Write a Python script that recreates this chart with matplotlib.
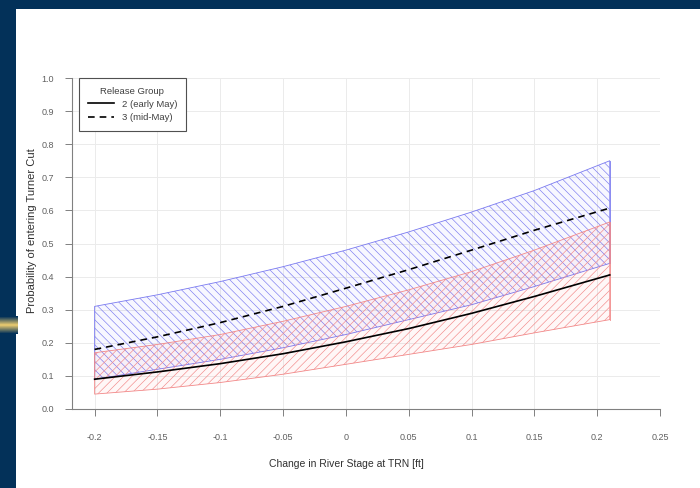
import matplotlib
matplotlib.use('Agg')
import matplotlib.pyplot as plt
import numpy as np

# change in river stage at TRN [ft]
stage = [-0.2, -0.15, -0.1, -0.05, 0.0, 0.05, 0.1, 0.15, 0.21]

# release group 2 (early May)
p_early = [0.090, 0.112, 0.137, 0.167, 0.203, 0.243, 0.289, 0.340, 0.405]
lo_early = [0.045, 0.060, 0.080, 0.105, 0.135, 0.165, 0.195, 0.230, 0.270]
hi_early = [0.170, 0.195, 0.225, 0.265, 0.310, 0.360, 0.415, 0.480, 0.565]

# release group 3 (mid-May)
p_mid = [0.180, 0.218, 0.261, 0.310, 0.365, 0.421, 0.480, 0.540, 0.607]
lo_mid = [0.090, 0.120, 0.150, 0.185, 0.225, 0.270, 0.315, 0.370, 0.440]
hi_mid = [0.310, 0.345, 0.385, 0.430, 0.480, 0.535, 0.595, 0.660, 0.750]

xticks = [-0.2, -0.15, -0.1, -0.05, 0, 0.05, 0.1, 0.15, 0.2, 0.25]
xlabels = ['-0.2', '-0.15', '-0.1', '-0.05', '0', '0.05', '0.1', '0.15', '0.2', '0.25']
yticks = np.round(np.arange(0, 1.01, 0.1), 1)

navy = '#033159'
blue_h = '#7a7af0'
red_h = '#f28888'
plt.rcParams['hatch.linewidth'] = 0.45
plt.rcParams['font.family'] = ['Liberation Sans', 'DejaVu Sans']

fig = plt.figure(figsize=(7, 4.88), dpi=100, facecolor=navy)

# white slide panel
fig.patches.append(plt.Rectangle((16 / 700, 0), 1, 1 - 9 / 488, transform=fig.transFigure,
                                 facecolor='white', edgecolor='none', zorder=-10))

# gold glint on the left border
glint = fig.add_axes([0, 1 - 334 / 488, 18 / 700, 18 / 488])
g = np.concatenate([np.linspace(0, 1, 9), np.linspace(1, 0, 9)])
cols = np.array([[3, 49, 89]]) / 255 * (1 - g[:, None]) + np.array([[224, 196, 110]]) / 255 * g[:, None]
glint.imshow(cols[:, None, :], aspect='auto', extent=(0, 1, 0, 1))
glint.axis('off')

ax = fig.add_axes([72 / 700, 1 - 409 / 488, 588 / 700, 331 / 488])
ax.set_facecolor('none')

ax.fill_between(stage, lo_mid, hi_mid, facecolor=(0, 0, 1, 0.03), edgecolor=blue_h,
                hatch='\\\\\\\\', linewidth=0.6, zorder=2)
ax.fill_between(stage, lo_early, hi_early, facecolor=(1, 0, 0, 0.03), edgecolor=red_h,
                hatch='////', linewidth=0.6, zorder=2)
ax.plot([stage[-1], stage[-1]], [lo_mid[-1], hi_mid[-1]], color=blue_h, lw=0.6, zorder=3)
ax.plot([stage[-1], stage[-1]], [lo_early[-1], hi_early[-1]], color=red_h, lw=0.6, zorder=3)

ax.plot(stage, p_early, color='black', lw=1.2, label='2 (early May)', zorder=4)
ax.plot(stage, p_mid, color='black', lw=1.2, ls=(0, (4, 3)), label='3 (mid-May)', zorder=4)

ax.set_xlim(-0.218, 0.25)
ax.set_ylim(0, 1.0)
ax.set_xticks(xticks)
ax.set_xticklabels(xlabels)
ax.set_yticks(yticks)
ax.set_yticklabels(['%.1f' % v for v in yticks])
ax.grid(True, color='#ebebeb', lw=0.7, zorder=0)
ax.set_axisbelow(True)

for s in ['top', 'right']:
    ax.spines[s].set_visible(False)
for s in ['left', 'bottom']:
    ax.spines[s].set_color('#808080')
    ax.spines[s].set_linewidth(0.8)
ax.tick_params(axis='both', direction='out', length=5, width=0.7, color='#808080',
               labelsize=6.5, labelcolor='#606060')
ax.tick_params(axis='x', pad=12)
ax.tick_params(axis='y', pad=8)

ax.set_xlabel('Change in River Stage at TRN [ft]', fontsize=7.5, color='#303030')
ax.set_ylabel('Probability of entering Turner Cut', fontsize=8, color='#303030')
ax.xaxis.set_label_coords(0.466, -0.152, transform=ax.transAxes)
ax.yaxis.set_label_coords(-0.06, 0.538, transform=ax.transAxes)

leg = ax.legend(title='Release Group', loc='upper left', bbox_to_anchor=(0.012, 1.0),
                borderaxespad=0, fontsize=6.8, title_fontsize=6.8, fancybox=False,
                framealpha=1, edgecolor='#505050', handlelength=2.8, borderpad=0.9,
                labelspacing=0.45, handletextpad=0.8)
leg.get_frame().set_linewidth(0.8)
for t in leg.get_texts():
    t.set_color('#404040')
leg.get_title().set_color('#404040')

fig.savefig('out.png', dpi=100, facecolor=navy)
